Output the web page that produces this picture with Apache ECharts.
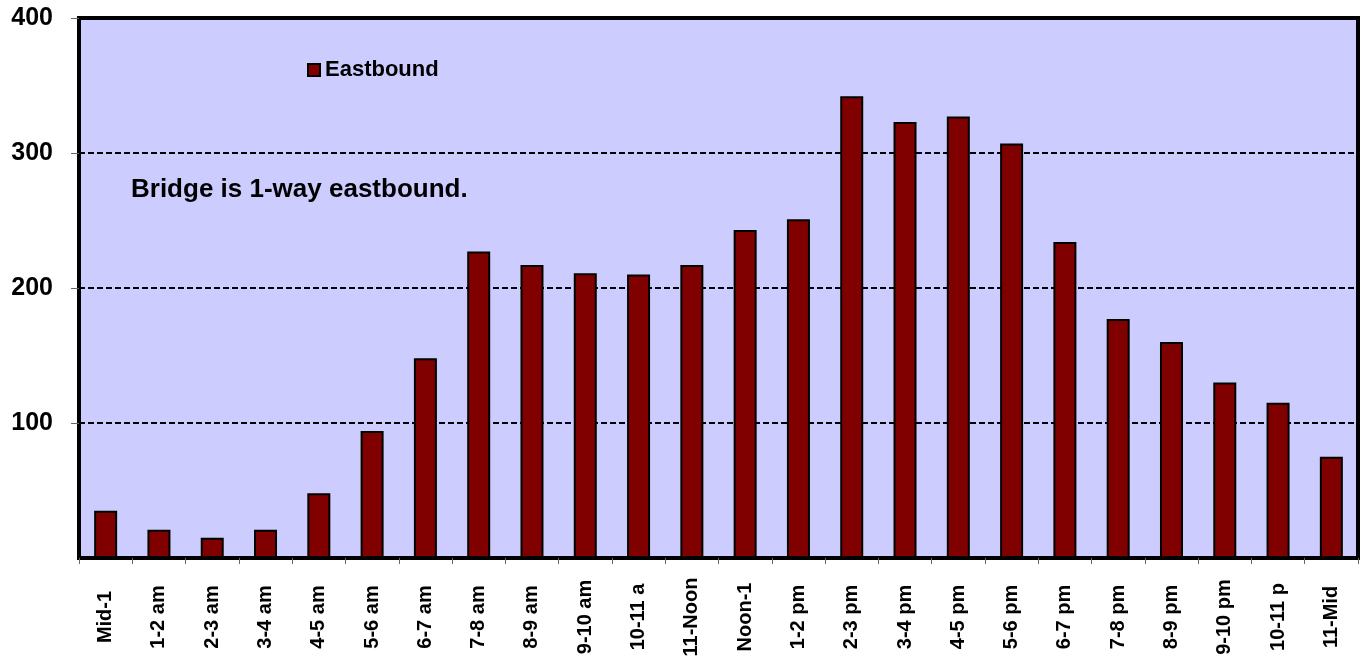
<!DOCTYPE html>
<html>
<head>
<meta charset="utf-8">
<script src="https://cdn.jsdelivr.net/npm/echarts@6/dist/echarts.min.js"></script>
<style>
  html, body { margin: 0; padding: 0; background: #fff; }
  #chart { width: 1364px; height: 664px; }
</style>
</head>
<body>
<div id="chart"></div>
<script>
let hours = ['Mid-1', '1-2 am', '2-3 am', '3-4 am', '4-5 am', '5-6 am', '6-7 am', '7-8 am',
  '8-9 am', '9-10 am', '10-11 a', '11-Noon', 'Noon-1', '1-2 pm', '2-3 pm', '3-4 pm',
  '4-5 pm', '5-6 pm', '6-7 pm', '7-8 pm', '8-9 pm', '9-10 pm', '10-11 p', '11-Mid']
let eastbound = [35, 21, 15, 21, 48, 94, 148, 227, 217, 211, 210, 217, 243, 251, 342, 323,
  327, 307, 234, 177, 160, 130, 115, 75]
let seriesName = 'Eastbound'
let note = 'Bridge is 1-way eastbound.'

let font = 'Liberation Sans, Arial, sans-serif'
let chart = echarts.init(document.getElementById('chart'))

chart.setOption({
  animation: false,
  grid: {
    left: 79, right: 6, top: 18, bottom: 106,
    show: true,
    backgroundColor: '#CCCCFF',
    borderColor: '#000',
    borderWidth: 4
  },
  legend: {
    left: 307, top: 59, padding: 0,
    itemWidth: 12, itemHeight: 12,
    icon: 'rect',
    textStyle: { fontFamily: font, fontWeight: 'bold', fontSize: 22, color: '#000' },
    data: [seriesName]
  },
  graphic: [{
    type: 'text',
    x: 131, y: 190,
    style: { text: note, font: 'bold 26px ' + font, fill: '#000', verticalAlign: 'middle' }
  }],
  xAxis: {
    type: 'category',
    data: hours,
    axisLine: { show: true, lineStyle: { color: '#000', width: 4 } },
    axisTick: { show: true, length: 6, lineStyle: { color: '#666', width: 1 } },
    axisLabel: {
      rotate: 90, margin: 59, align: 'center', verticalAlign: 'middle',
      fontFamily: font, fontWeight: 'bold', fontSize: 20, color: '#000'
    }
  },
  yAxis: {
    type: 'value',
    min: 0, max: 400, interval: 100,
    axisLine: { show: false },
    axisTick: { show: true, length: 8, lineStyle: { color: '#666', width: 1 } },
    axisLabel: {
      showMinLabel: false, margin: 26,
      fontFamily: font, fontWeight: 'bold', fontSize: 25, color: '#000'
    },
    splitLine: { show: true, lineStyle: { color: '#000', type: [6, 3], width: 2 } }
  },
  series: [{
    name: seriesName,
    type: 'bar',
    data: eastbound,
    barWidth: 23,
    itemStyle: { color: '#800000', borderColor: '#000', borderWidth: 2 }
  }]
})
</script>
</body>
</html>
